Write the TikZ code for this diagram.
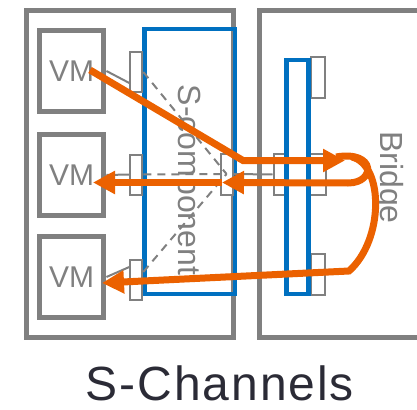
\documentclass[tikz,border=0pt]{standalone}
\usepackage{fontspec}
\setmainfont{Liberation Sans}
\newfontfamily\titlefont[LetterSpace=4]{Liberation Sans}
\usetikzlibrary{arrows.meta,calc}
\definecolor{boxgray}{RGB}{128,128,128}
\definecolor{swblue}{RGB}{0,112,192}
\definecolor{flowc}{RGB}{235,97,0}
\definecolor{titlec}{RGB}{43,43,54}

\begin{document}
\begin{tikzpicture}[x=1pt, y=-1pt,
    host/.style={rectangle, draw=boxgray, line width=5pt, inner sep=0pt, minimum height=327pt},
    vm/.style={rectangle, draw=boxgray, line width=5.5pt, minimum width=64pt, minimum height=81pt, inner sep=0pt, text=boxgray, font=\fontsize{30}{36}\selectfont},
    port/.style={rectangle, draw=boxgray, line width=2pt, fill=white, minimum width=12pt, minimum height=40pt, inner sep=0pt},
    sw/.style={rectangle, draw=swblue, line width=4.5pt, inner sep=0pt},
    wire/.style={draw=boxgray, line width=2pt},
    vlink/.style={draw=boxgray, line width=2pt, dash pattern=on 8pt off 6pt},
    flow/.style={draw=flowc, line width=7pt, -{Triangle[length=22pt,width=22pt]}},
    lbl/.style={text=boxgray, font=\fontsize{32}{38}\selectfont, rotate=-90, inner sep=0pt, anchor=base}
]
\useasboundingbox (0,0) rectangle (417,409);

% Hosts
\node[host, minimum width=207pt] (hostL) at (130,174) {};
\node[host, minimum width=200pt] (hostR) at (359.5,174) {};

% VMs
\node[vm] (vm1) at (71.7,71) {VM};
\node[vm] (vm2) at (71.7,175) {VM};
\node[vm] (vm3) at (71.7,277) {VM};

% S-component and its ports
\node[sw, minimum width=90.5pt, minimum height=265pt] (scomp) at (189.75,161.5) {};
\node[port] (port1) at (136.3,72) {};
\node[port] (port2) at (136.3,174.5) {};
\node[port] (port3) at (136.3,280) {};
\node[port, minimum height=41pt] (sport) at (226.5,174) {};

% Bridge and its ports
\node[port, minimum width=52pt, minimum height=41pt] (bport) at (299.5,174.5) {};
\node[port, minimum width=14pt, minimum height=41pt] (bport1) at (318,78) {};
\node[port, minimum width=14pt, minimum height=41pt] (bport3) at (318,274.5) {};
\node[sw, fill=white, minimum width=21.8pt, minimum height=234pt] (bridge) at (297.6,177) {};

% Links
\draw[wire] (vm1.east) -- ($(port1.west)+(0,11)$);
\draw[wire] (vm2.east) -- (port2.west);
\draw[wire] (vm3.east) -- ($(port3.west)+(0,-13)$);
\draw[wire] (sport.east) -- (bport.west);
\draw[vlink] (port1.east) -- (sport.center);
\draw[vlink] (port2.east) -- (sport.center);
\draw[vlink] ($(port3.east)+(0,-8)$) -- (sport.center);

% Labels
\node[lbl] (scompl) at (178,180) {S-component};
\node[lbl] (bridgel) at (380,177.5) {Bridge};
\node[text=titlec, font=\titlefont\fontsize{48}{56}\selectfont, inner sep=0pt, anchor=base] (title) at (220,400.5) {S-Channels};

% Traffic
\coordinate (f1s) at (90,70);
\coordinate (f1b) at (243,160.5);
\coordinate (f1e) at (345,160.5);
\coordinate (hp) at (336,157);
\coordinate (sin) at (222,182.5);
\coordinate (vm2tip) at (93,182.5);
\coordinate (lp) at (352,157);
\coordinate (vm3tip) at (102,283);
\draw[flow] (f1s) -- (f1b) -- (f1e);
\draw[flow] (hp) .. controls (376,150) and (376,183) .. (348,183) -- (sin);
\draw[flow] (sin) -- (vm2tip);
\draw[flow] (lp) .. controls (384,165) and (384,240) .. (349,271) -- (vm3tip);

\end{tikzpicture}
\end{document}
